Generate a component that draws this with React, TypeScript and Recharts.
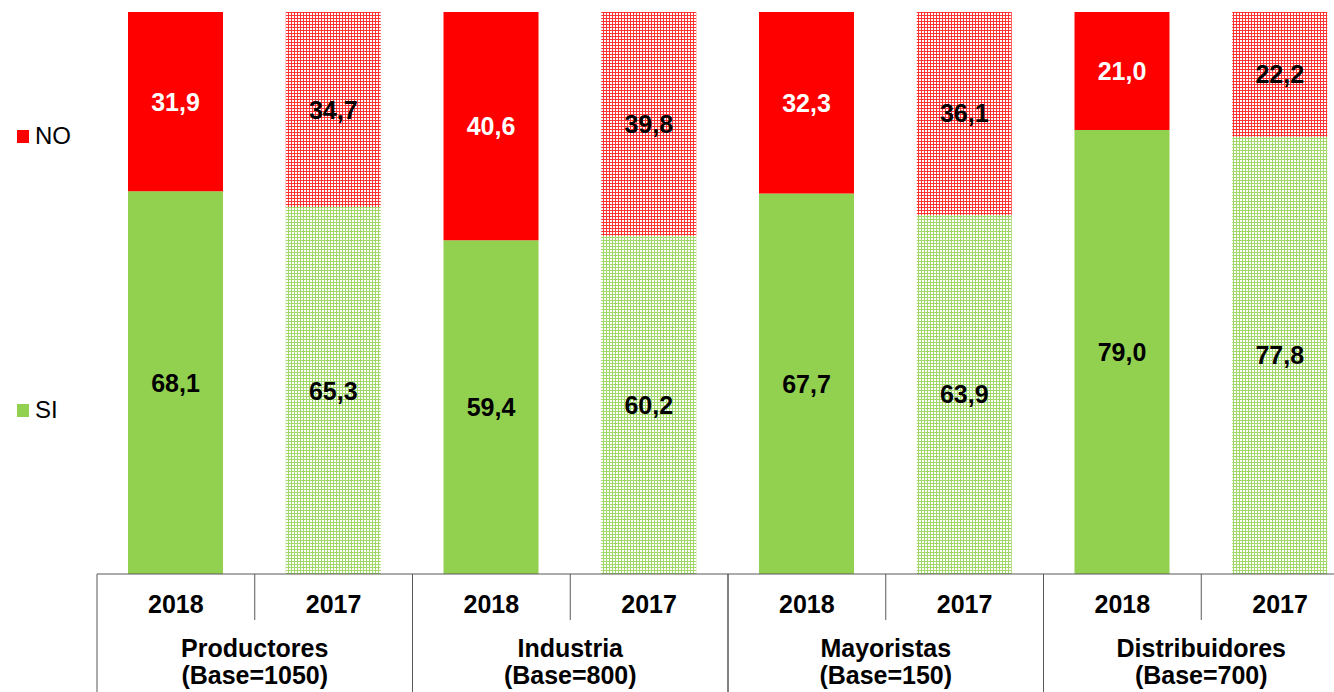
import React from 'react';
import { BarChart, Bar, XAxis, YAxis, Cell } from 'recharts';

// Data
const GROUPS = ['Productores', 'Industria', 'Mayoristas', 'Distribuidores'];
const BASES = [1050, 800, 150, 700];
const YEARS = ['2018', '2017'];
const SI = [68.1, 65.3, 59.4, 60.2, 67.7, 63.9, 79.0, 77.8];
const NO = [31.9, 34.7, 40.6, 39.8, 32.3, 36.1, 21.0, 22.2];

const RED = '#ff0000';
const GREEN = '#92d050';
const LINE = '#595959';
const FONT = '"Liberation Sans", Arial, sans-serif';

const CHART_W = 1372;
const CHART_H = 692;
const MARGIN = { top: 12, right: 13, left: 97, bottom: 0 };
const SLOT = (CHART_W - MARGIN.left - MARGIN.right) / (GROUPS.length * YEARS.length);
const PLOT_BOTTOM = 574;

const data = GROUPS.flatMap((g, gi) =>
  YEARS.map((y, yi) => {
    const i = gi * YEARS.length + yi;
    return { key: `${g}-${y}`, year: y, group: g, base: BASES[gi], SI: SI[i], NO: NO[i] };
  })
);

const fmt = (v: number) => v.toFixed(1).replace('.', ',');

// stacked bars report the cumulative value, so read the segment value from the row
const makeLabel = (series: 'SI' | 'NO') => (props: any) => {
  const { x, y, width, height, index } = props;
  const row = data[index];
  if (!row) return null;
  const white = series === 'NO' && index % 2 === 0;
  return (
    <text
      x={x + width / 2}
      y={y + height / 2}
      textAnchor="middle"
      dominantBaseline="central"
      fontFamily={FONT}
      fontWeight="bold"
      fontSize={25}
      fill={white ? '#ffffff' : '#000000'}
    >
      {fmt(row[series])}
    </text>
  );
};

const AxisTick = (props: any) => {
  const { x, index } = props;
  const row = data[index];
  if (!row) return null;
  const first = index % 2 === 0;
  return (
    <g>
      <text x={x} y={604} textAnchor="middle" dominantBaseline="central"
        fontFamily={FONT} fontWeight="bold" fontSize={25} fill="#000">
        {row.year}
      </text>
      {first && (
        <>
          {/* separator between years */}
          <line x1={x + SLOT / 2} x2={x + SLOT / 2} y1={PLOT_BOTTOM} y2={620} stroke={LINE} strokeWidth={1} />
          {/* group boundary */}
          <line x1={x - SLOT / 2} x2={x - SLOT / 2} y1={PLOT_BOTTOM} y2={CHART_H} stroke={LINE} strokeWidth={1} />
          <text x={x + SLOT / 2} y={648} textAnchor="middle" dominantBaseline="central"
            fontFamily={FONT} fontWeight="bold" fontSize={25} fill="#000">
            {row.group}
          </text>
          <text x={x + SLOT / 2} y={675} textAnchor="middle" dominantBaseline="central"
            fontFamily={FONT} fontWeight="bold" fontSize={25} fill="#000">
            {`(Base=${row.base})`}
          </text>
        </>
      )}
      {!first && (
        <line x1={x + SLOT / 2} x2={x + SLOT / 2} y1={PLOT_BOTTOM} y2={CHART_H} stroke={LINE} strokeWidth={1} />
      )}
    </g>
  );
};

const legendItems = [
  { name: 'NO', color: RED, top: 136 },
  { name: 'SI', color: GREEN, top: 410 },
];

export default function App() {
  return (
    <div style={{ position: 'absolute', left: 0, top: 0, width: 1334, height: 692, overflow: 'hidden', background: '#fff' }}>
      <BarChart width={CHART_W} height={CHART_H} data={data} margin={MARGIN}>
        <defs>
          {/* light checkered fill for the 2017 bars */}
          <pattern id="redDots" width="3" height="3" patternUnits="userSpaceOnUse">
            <rect width="3" height="3" fill="#ffffff" />
            <rect width="3" height="3" fill={RED} opacity={0.8} />
            <rect x="1" y="1" width="2" height="2" fill="#ffffff" />
          </pattern>
          <pattern id="greenDots" width="3" height="3" patternUnits="userSpaceOnUse">
            <rect width="3" height="3" fill="#ffffff" />
            <rect width="3" height="3" fill={GREEN} opacity={0.85} />
            <rect x="1" y="1" width="2" height="2" fill="#ffffff" />
          </pattern>
        </defs>
        <XAxis
          dataKey="key"
          height={118}
          interval={0}
          tickLine={false}
          axisLine={{ stroke: LINE, strokeWidth: 1 }}
          tick={(p: any) => <AxisTick {...p} />}
        />
        <YAxis hide domain={[0, 100]} />
        <Bar dataKey="SI" stackId="a" barSize={95} isAnimationActive={false} label={makeLabel('SI')}>
          {data.map((d, i) => (
            <Cell key={`si-${d.key}`} fill={i % 2 === 0 ? GREEN : 'url(#greenDots)'} />
          ))}
        </Bar>
        <Bar dataKey="NO" stackId="a" barSize={95} isAnimationActive={false} label={makeLabel('NO')}>
          {data.map((d, i) => (
            <Cell key={`no-${d.key}`} fill={i % 2 === 0 ? RED : 'url(#redDots)'} />
          ))}
        </Bar>
      </BarChart>
      {legendItems.map((l) => (
        <div key={l.name} style={{ position: 'absolute', left: 17, top: l.top - 14, height: 28, display: 'flex', alignItems: 'center', fontFamily: FONT, fontSize: 24, color: '#000' }}>
          <span style={{ display: 'inline-block', width: 12, height: 13, background: l.color, marginRight: 6 }} />
          {l.name}
        </div>
      ))}
    </div>
  );
}
